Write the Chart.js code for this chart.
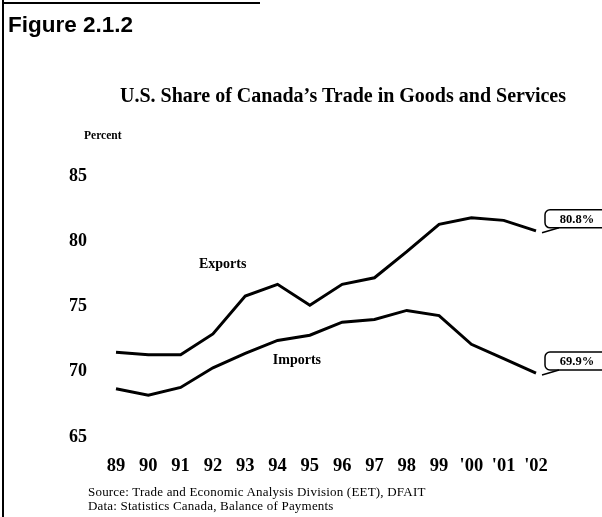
<!DOCTYPE html>
<html>
<head>
<meta charset="utf-8">
<script src="https://cdn.jsdelivr.net/npm/chart.js@4.4.1/dist/chart.umd.min.js"></script>
<style>
  body { margin: 0; background: #fff; }
  #wrap { position: relative; width: 602px; height: 517px; overflow: hidden; }
  #chartBox { position: absolute; left: 0; top: 0; width: 602px; height: 517px; }
  .txt { position: absolute; color: #000; white-space: nowrap; }
  #fig { left: 8px; top: 12px; font: bold 22.5px "Liberation Sans", Arial, sans-serif; }
  #title { left: 0; width: 686px; text-align: center; top: 84px; font: bold 20px "Liberation Serif", "Times New Roman", serif; }
  #unit { left: 84px; top: 129px; font: bold 11.5px "Liberation Serif", serif; }
  #src { left: 88px; top: 485px; font: 13px "Liberation Serif", serif; line-height: 13.5px; letter-spacing: 0.2px; }
  #borderL { position: absolute; left: 2px; top: 0; width: 2px; height: 517px; background: #000; }
  #borderT { position: absolute; left: 2px; top: 2px; width: 258px; height: 2px; background: #000; }
</style>
</head>
<body>
<div id="wrap">
  <div id="chartBox"><canvas id="tradeChart"></canvas></div>
  <div id="borderL"></div>
  <div id="borderT"></div>
  <div class="txt" id="fig">Figure 2.1.2</div>
  <div class="txt" id="title">U.S. Share of Canada’s Trade in Goods and Services</div>
  <div class="txt" id="unit">Percent</div>
  <div class="txt" id="src">Source: Trade and Economic Analysis Division (EET), DFAIT<br>Data: Statistics Canada, Balance of Payments</div>
</div>
<script>
const years = ['89','90','91','92','93','94','95','96','97','98','99',"'00","'01","'02"];
const exportsShare = [71.5,71.3,71.3,72.9,75.8,76.7,75.1,76.7,77.2,79.2,81.3,81.8,81.6,80.8];
const importsShare = [68.7,68.2,68.8,70.3,71.4,72.4,72.8,73.8,74.0,74.7,74.3,72.1,71.0,69.9];
const yTicks = [65,70,75,80,85];

const serif = '"Liberation Serif", "Times New Roman", serif';

// series names and end-of-line callouts
const annotate = {
  id: 'annotate',
  afterDatasetsDraw(chart) {
    const ctx = chart.ctx;
    const x = chart.scales.x, y = chart.scales.y;
    ctx.save();
    ctx.fillStyle = '#000';
    ctx.font = 'bold 14px ' + serif;
    ctx.textAlign = 'center';
    ctx.textBaseline = 'middle';
    ctx.fillText('Exports', x.getPixelForValue(3.3), y.getPixelForValue(78.2));
    ctx.fillText('Imports', x.getPixelForValue(5.6), y.getPixelForValue(70.9));

    chart.data.datasets.forEach(ds => {
      const last = ds.data[ds.data.length - 1];
      const px = x.getPixelForValue(ds.data.length - 1);
      const py = y.getPixelForValue(last);
      const bx = px + 9, bw = 90, bh = 18, by = py - 21;
      ctx.strokeStyle = '#000';
      ctx.lineWidth = 1.5;
      ctx.beginPath();
      ctx.roundRect(bx, by, bw, bh, 5);
      ctx.stroke();
      ctx.beginPath();
      ctx.moveTo(bx + 14, by + bh);
      ctx.lineTo(px + 6, py + 2);
      ctx.stroke();
      ctx.font = 'bold 12.5px ' + serif;
      ctx.fillText(last.toFixed(1) + '%', bx + 32, by + bh / 2 + 1);
    });
    ctx.restore();
  }
};

new Chart(document.getElementById('tradeChart'), {
  type: 'line',
  data: {
    labels: years,
    datasets: [
      { label: 'Exports', data: exportsShare, borderColor: '#000', borderWidth: 3, pointRadius: 0, tension: 0 },
      { label: 'Imports', data: importsShare, borderColor: '#000', borderWidth: 3, pointRadius: 0, tension: 0 }
    ]
  },
  options: {
    responsive: true,
    maintainAspectRatio: false,
    animation: false,
    events: [],
    layout: { padding: { left: 0, right: 66, top: 176, bottom: 0 } },
    plugins: { legend: { display: false }, tooltip: { enabled: false } },
    scales: {
      x: {
        offset: false,
        grid: { display: false },
        border: { display: false },
        ticks: { color: '#000', padding: 10, maxRotation: 0, autoSkip: false,
                 font: { family: serif, size: 18.5, weight: 'bold' } },
        afterFit(scale) { scale.height = 80; }
      },
      y: {
        min: 65, max: 85,
        grid: { display: false },
        border: { display: false },
        afterBuildTicks(scale) { scale.ticks = yTicks.map(v => ({ value: v })); },
        ticks: { color: '#000', padding: 21,
                 font: { family: serif, size: 18, weight: 'bold' } },
        afterFit(scale) { scale.width = 116; }
      }
    }
  },
  plugins: [annotate]
});
</script>
</body>
</html>
